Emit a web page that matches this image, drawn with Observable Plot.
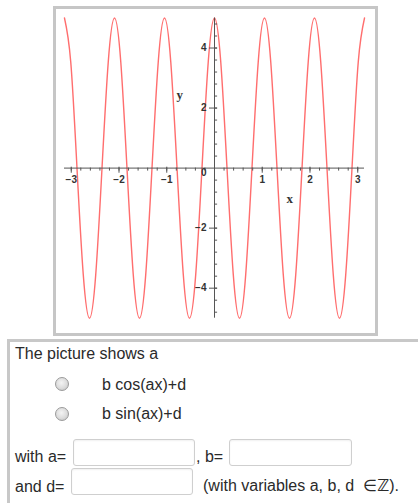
<!DOCTYPE html>
<html>
<head>
<meta charset="utf-8">
<script src="https://cdn.jsdelivr.net/npm/d3@7"></script>
<script src="https://cdn.jsdelivr.net/npm/@observablehq/plot@0.6"></script>
<style>
  html, body { margin: 0; padding: 0; background: #fff; width: 418px; height: 503px; overflow: hidden; }
  body { position: relative; font-family: "Liberation Sans", Arial, sans-serif; color: #2a2a2a; }
  #frame { position: absolute; left: 53px; top: 6px; width: 319px; height: 324px; border: 3px solid #c6c6c6; background: #fff; }
  #frame svg { display: block; }
  #qbox { position: absolute; left: 7px; top: 339px; width: 430px; height: 200px; border-top: 3px solid #c8c8c8; border-left: 3px solid #c8c8c8; }
  .t { position: absolute; font-size: 16px; line-height: 18px; white-space: nowrap; }
  .radio { position: absolute; width: 12px; height: 12px; border-radius: 50%; border: 1px solid #9a9a9a;
           background: radial-gradient(circle at 45% 40%, #f4f4f4 0%, #dcdcdc 55%, #bcbcbc 100%); }
  .inp { position: absolute; box-sizing: border-box; border: 1px solid #cfcfcf; border-radius: 3px; background: #fff;
         box-shadow: inset 0 1px 2px rgba(0,0,0,0.06); }
  .z { font-family: "DejaVu Sans", sans-serif; font-weight: bold; font-style: italic; }
</style>
</head>
<body>
<div id="frame"></div>
<div id="qbox"></div>
<div class="t" style="left:15px; top:345px;">The picture shows a</div>
<div class="radio" style="left:55px; top:377px;"></div>
<div class="t" style="left:102px; top:376px;">b cos(ax)+d</div>
<div class="radio" style="left:55px; top:407px;"></div>
<div class="t" style="left:102px; top:405px;">b sin(ax)+d</div>
<div class="t" style="left:15px; top:448px;">with a=</div>
<div class="inp" style="left:73px; top:439px; width:122px; height:27px;"></div>
<div class="t" style="left:196px; top:448px;">, b=</div>
<div class="inp" style="left:229px; top:439px; width:123px; height:27px;"></div>
<div class="t" style="left:15px; top:478px;">and d=</div>
<div class="inp" style="left:71px; top:468px; width:122px; height:27px;"></div>
<div class="t" style="left:203px; top:477px;">(with variables a, b, d &nbsp;∈<span class="z">ℤ</span>).</div>
<script>
// Curve samples (x in radians, y values)
const curveX = [-3.142, -3.011, -2.880, -2.749, -2.618, -2.487, -2.356, -2.225, -2.094, -1.963,
  -1.833, -1.702, -1.571, -1.440, -1.309, -1.178, -1.047, -0.916, -0.785, -0.654,
  -0.524, -0.393, -0.262, -0.131, 0, 0.131, 0.262, 0.393, 0.524, 0.654,
  0.785, 0.916, 1.047, 1.178, 1.309, 1.440, 1.571, 1.702, 1.833, 1.963,
  2.094, 2.225, 2.356, 2.487, 2.618, 2.749, 2.880, 3.011, 3.142];
const curveY = [5, 3.54, 0, -3.54, -5, -3.54, 0, 3.54,
  5, 3.54, 0, -3.54, -5, -3.54, 0, 3.54,
  5, 3.54, 0, -3.54, -5, -3.54, 0, 3.54,
  5, 3.54, 0, -3.54, -5, -3.54, 0, 3.54,
  5, 3.54, 0, -3.54, -5, -3.54, 0, 3.54,
  5, 3.54, 0, -3.54, -5, -3.54, 0, 3.54,
  5];

// Axis ticks
const xTicks = [-3, -2, -1, 1, 2, 3];
const xMinorTicks = [-3.0, -2.8, -2.6, -2.4, -2.2, -2.0, -1.8, -1.6, -1.4, -1.2, -1.0, -0.8, -0.6, -0.4, -0.2,
  0.2, 0.4, 0.6, 0.8, 1.0, 1.2, 1.4, 1.6, 1.8, 2.0, 2.2, 2.4, 2.6, 2.8, 3.0];
const yTicks = [-4, -2, 2, 4];
const yMinorTicks = [-4.8, -4.4, -4.0, -3.6, -3.2, -2.8, -2.4, -2.0, -1.6, -1.2, -0.8, -0.4,
  0.4, 0.8, 1.2, 1.6, 2.0, 2.4, 2.8, 3.2, 3.6, 4.0, 4.4, 4.8];
const xDomain = [-3.1416, 3.1416];
const yDomain = [-5, 5];

const points = curveX.map((x, i) => ({x, y: curveY[i]}));
const fmt = d => (d < 0 ? "\u2212" + Math.abs(d) : String(d));
const tickFont = {fontFamily: "Liberation Sans, Arial, sans-serif", fontWeight: "bold", fontSize: 10, fill: "#333"};
const axisColor = "#555";

const chart = Plot.plot({
  width: 319,
  height: 324,
  marginLeft: 8,
  marginRight: 11,
  marginTop: 8.5,
  marginBottom: 15.3,
  x: {domain: xDomain, axis: null},
  y: {domain: yDomain, axis: null},
  marks: [
    Plot.line(points, {x: "x", y: "y", curve: "natural", stroke: "#ff6e6e", strokeWidth: 1.4}),
    Plot.ruleY([0], {x1: xDomain[0], x2: xDomain[1], stroke: axisColor, strokeWidth: 1}),
    Plot.ruleX([0], {y1: yDomain[0], y2: yDomain[1], stroke: axisColor, strokeWidth: 1}),
    Plot.ruleX(xMinorTicks, {x: d => d, y1: 0, y2: -0.1, stroke: axisColor, strokeWidth: 1}),
    Plot.ruleX(xTicks, {x: d => d, y1: 0.03, y2: -0.17, stroke: axisColor, strokeWidth: 1}),
    Plot.ruleY(yMinorTicks, {y: d => d, x1: 0, x2: 0.065, stroke: axisColor, strokeWidth: 1}),
    Plot.ruleY(yTicks, {y: d => d, x1: -0.105, x2: 0.065, stroke: axisColor, strokeWidth: 1}),
    Plot.text(xTicks, {x: d => d, y: 0, text: fmt, dy: 11.5, textAnchor: "middle", lineAnchor: "middle", ...tickFont}),
    Plot.text(yTicks, {x: 0, y: d => d, text: fmt, dx: -8, textAnchor: "end", lineAnchor: "middle", ...tickFont}),
    Plot.text([0], {x: 0, y: 0, text: d => String(d), dx: -8, dy: 5, textAnchor: "end", lineAnchor: "middle", ...tickFont}),
    Plot.text(["y"], {x: -0.727, y: 2.45, text: d => d, fontFamily: "Liberation Serif, serif", fontWeight: "bold", fontSize: 13, fill: "#333", lineAnchor: "middle"}),
    Plot.text(["x"], {x: 1.577, y: -1.02, text: d => d, fontFamily: "Liberation Serif, serif", fontWeight: "bold", fontSize: 13, fill: "#333", lineAnchor: "middle"})
  ]
});
document.getElementById("frame").appendChild(chart);
</script>
</body>
</html>
